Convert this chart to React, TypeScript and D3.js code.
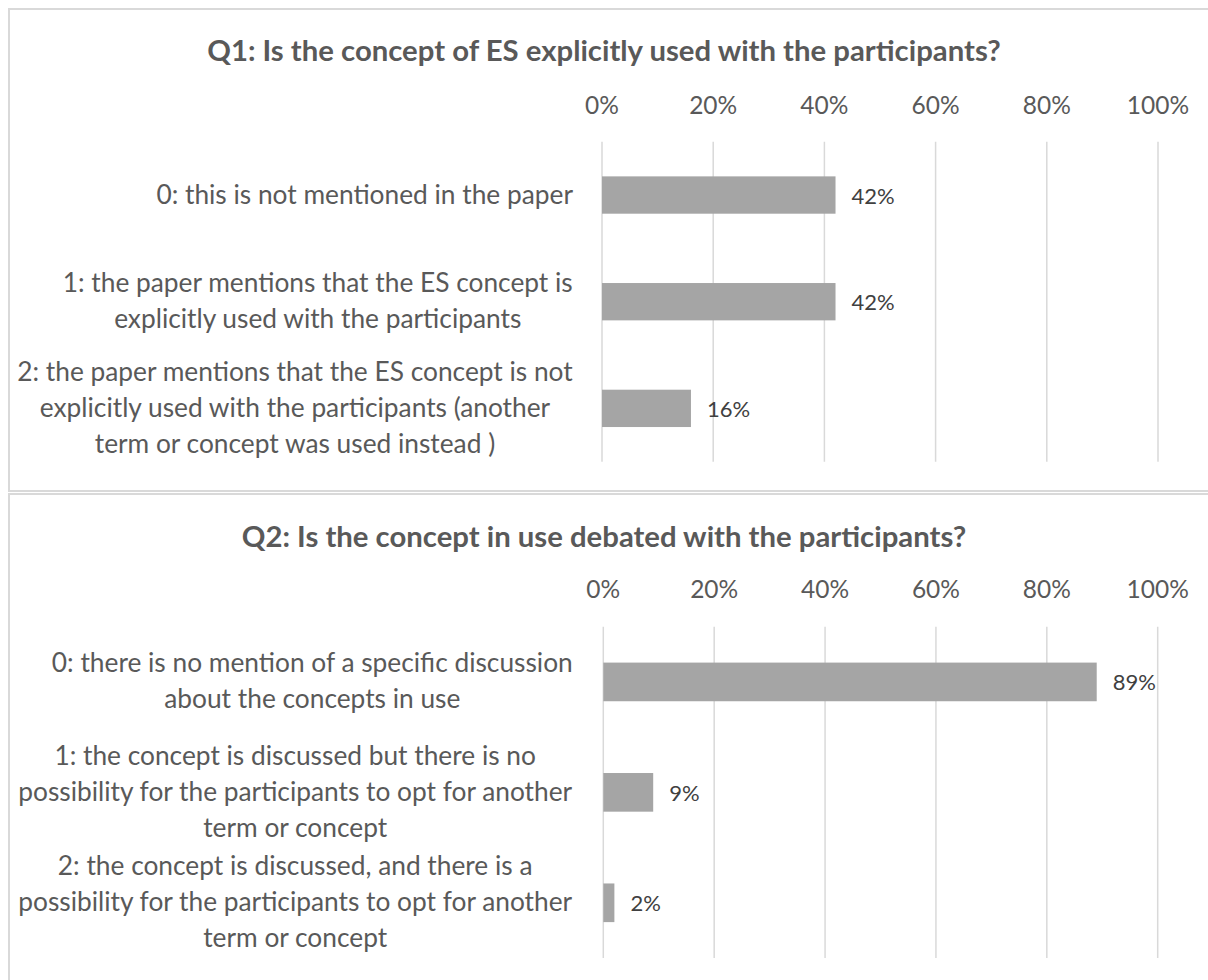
import React from "react";
import * as d3 from "d3";

const q1Title = "Q1: Is the concept of ES explicitly used with the participants?";
const q1Labels: string[][] = [
  ["0: this is not mentioned in the paper"],
  ["1: the paper mentions that the ES concept is", "explicitly used with the participants"],
  [
    "2: the paper mentions that the ES concept is not",
    "explicitly used with the participants (another",
    "term or concept was used instead )",
  ],
];
const q1Values = [0.42, 0.42, 0.16];

const q2Title = "Q2: Is the concept in use debated with the participants?";
const q2Labels: string[][] = [
  ["0: there is no mention of a specific discussion", "about the concepts in use"],
  [
    "1: the concept is discussed but there is no",
    "possibility for the participants to opt for another",
    "term or concept",
  ],
  [
    "2: the concept is discussed, and there is a",
    "possibility for the participants to opt for another",
    "term or concept",
  ],
];
const q2Values = [0.89, 0.09, 0.02];

const tickValues = [0, 0.2, 0.4, 0.6, 0.8, 1.0];

const FONT = "Lato, 'Open Sans', sans-serif";
const pct = d3.format(".0%");

type PanelProps = {
  title: string;
  labels: string[][];
  values: number[];
  titleY: number;
  tickY: number;
  plotTop: number;
  plotBottom: number;
  x0: number;
  x1: number;
};

function Panel(p: PanelProps) {
  const x = d3.scaleLinear().domain([0, 1]).range([p.x0, p.x1]);
  const y = d3
    .scaleBand<number>()
    .domain(p.values.map((_, i) => i))
    .range([p.plotTop, p.plotBottom])
    .paddingInner(0.65)
    .paddingOuter(0.325);
  const labelRight = 573;
  const lineH = 36;
  const labelFont = 26.3;
  const ctx = typeof document !== "undefined" ? document.createElement("canvas").getContext("2d") : null;
  if (ctx) ctx.font = `${labelFont}px ${FONT}`;
  return (
    <g>
      <text
        x={604}
        y={p.titleY}
        textAnchor="middle"
        fontFamily={FONT}
        fontWeight="bold"
        fontSize={29.3}
        fill="#595959"
      >
        {p.title}
      </text>
      {tickValues.map((t) => (
        <g key={t}>
          <line x1={x(t)} x2={x(t)} y1={p.plotTop} y2={p.plotBottom} stroke="#d9d9d9" strokeWidth={1.5} />
          <text x={x(t)} y={p.tickY} textAnchor="middle" fontFamily={FONT} fontSize={24.5} fill="#595959">
            {pct(t)}
          </text>
        </g>
      ))}
      {p.values.map((v, i) => {
        const by = y(i)!;
        const bh = y.bandwidth();
        const cy = by + bh / 2;
        const lines = p.labels[i];
        const maxW = ctx ? Math.max(...lines.map((l) => ctx.measureText(l).width)) : 400;
        const cx = labelRight - maxW / 2;
        const firstBase = cy + 8.5 - ((lines.length - 1) * lineH) / 2;
        return (
          <g key={i}>
            <rect x={x(0)} y={by} width={x(v) - x(0)} height={bh} fill="#a5a5a5" />
            <text x={x(v) + 16} y={cy + 8.5} fontFamily={FONT} fontSize={22} fill="#404040">
              {pct(v)}
            </text>
            <text textAnchor="middle" fontFamily={FONT} fontSize={labelFont} fill="#595959">
              {lines.map((l, j) => (
                <tspan key={j} x={cx} y={firstBase + j * lineH}>
                  {l}
                </tspan>
              ))}
            </text>
          </g>
        );
      })}
    </g>
  );
}

export default function App() {
  return (
    <svg
      width={1208}
      height={980}
      style={{ position: "absolute", left: 0, top: 0, background: "#fff" }}
    >
      <rect x={0} y={0} width={1208} height={980} fill="#fff" />
      <rect x={9} y={9} width={1300} height={482} fill="none" stroke="#d9d9d9" strokeWidth={2} />
      <rect x={9} y={494} width={1300} height={600} fill="none" stroke="#d9d9d9" strokeWidth={2} />
      <Panel
        title={q1Title}
        labels={q1Labels}
        values={q1Values}
        titleY={61}
        tickY={114}
        plotTop={141.7}
        plotBottom={461.7}
        x0={602}
        x1={1158}
      />
      <Panel
        title={q2Title}
        labels={q2Labels}
        values={q2Values}
        titleY={547}
        tickY={597.7}
        plotTop={626.7}
        plotBottom={958}
        x0={603.3}
        x1={1157.7}
      />
    </svg>
  );
}
